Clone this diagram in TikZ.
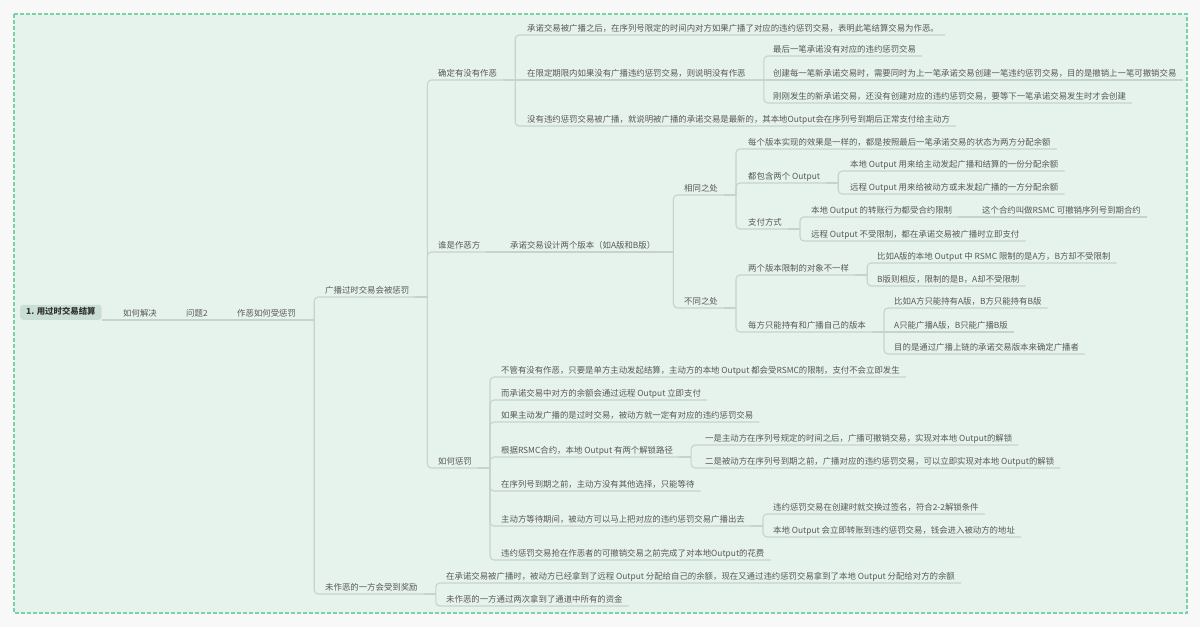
\documentclass[tikz,border=0pt]{standalone}
\usepackage{fontspec}
\setmainfont{Noto Sans CJK SC}
\usepackage{tikz}

\definecolor{pagebg}{RGB}{248,248,248}
\definecolor{mapbg}{RGB}{230,243,237}
\definecolor{framegreen}{RGB}{122,210,166}
\definecolor{linegray}{RGB}{198,211,204}
\definecolor{textgray}{RGB}{88,88,88}
\definecolor{rootfill}{RGB}{201,223,213}

\begin{document}
\begin{tikzpicture}[x=1pt, y=-1pt,
        topic/.style={anchor=south west, inner xsep=6pt, inner ysep=2pt, text height=6.5pt, text depth=1.5pt, text=textgray, font=\fontsize{8.4}{10}\selectfont},
        root/.style={topic, fill=rootfill, rounded corners=3pt, inner ysep=3.5pt, text=black!80, font=\fontsize{8.4}{10}\selectfont\bfseries},
        link/.style={draw=linegray, line width=1.1pt}]
        \useasboundingbox (0, 0) rectangle (1200, 627);
        \fill [pagebg] (0, 0) rectangle (1200, 627);
        \draw [fill=mapbg, draw=framegreen, line width=1.5pt, dash pattern=on 4pt off 2pt] (14, 14) rectangle (1187, 613);

        \node (r) at (20, 320) [root] {1. 用过时交易结算};
        \node (a) at (117, 320) [topic] {如何解决};
        \node (b) at (180, 320) [topic] {问题2};
        \node (c) at (231, 320) [topic] {作恶如何受惩罚};

        \node (c1) at (319, 297) [topic] {广播过时交易会被惩罚};
        \node (c2) at (319, 594) [topic] {未作恶的一方会受到奖励};

        \node (c11) at (432, 80) [topic] {确定有没有作恶};
        \node (c12) at (432, 252) [topic] {谁是作恶方};
        \node (c13) at (432, 468) [topic] {如何惩罚};

        \node (c111) at (521, 35) [topic] {承诺交易被广播之后，在序列号限定的时间内对方如果广播了对应的违约惩罚交易，表明此笔结算交易为作恶。};
        \node (c112) at (521, 80) [topic] {在限定期限内如果没有广播违约惩罚交易，则说明没有作恶};
        \node (c113) at (521, 126) [topic] {没有违约惩罚交易被广播，就说明被广播的承诺交易是最新的，其本地Output会在序列号到期后正常支付给主动方};

        \node (c1121) at (767, 56) [topic] {最后一笔承诺没有对应的违约惩罚交易};
        \node (c1122) at (767, 80) [topic] {创建每一笔新承诺交易时，需要同时为上一笔承诺交易创建一笔违约惩罚交易，目的是撤销上一笔可撤销交易};
        \node (c1123) at (767, 103) [topic] {刚刚发生的新承诺交易，还没有创建对应的违约惩罚交易，要等下一笔承诺交易发生时才会创建};

        \node (c121) at (504, 252) [topic] {承诺交易设计两个版本（如A版和B版）};
        \node (c1211) at (678, 195) [topic] {相同之处};
        \node (c1212) at (678, 308) [topic] {不同之处};

        \node (c12111) at (742, 149) [topic] {每个版本实现的效果是一样的，都是按照最后一笔承诺交易的状态为两方分配余额};
        \node (c12112) at (742, 183) [topic] {都包含两个 Output};
        \node (c12113) at (742, 229) [topic] {支付方式};
        \node (c121121) at (844, 171) [topic] {本地 Output 用来给主动发起广播和结算的一份分配余额};
        \node (c121122) at (844, 194) [topic] {远程 Output 用来给被动方或未发起广播的一方分配余额};
        \node (c121131) at (805, 217) [topic] {本地 Output 的转账行为都受合约限制};
        \node (c1211311) at (976, 217) [topic] {这个合约叫做RSMC 可撤销序列号到期合约};
        \node (c121132) at (805, 241) [topic] {远程 Output 不受限制，都在承诺交易被广播时立即支付};

        \node (c12121) at (742, 275) [topic] {两个版本限制的对象不一样};
        \node (c12122) at (742, 332) [topic] {每方只能持有和广播自己的版本};
        \node (c121211) at (871, 263) [topic] {比如A版的本地 Output 中 RSMC 限制的是A方，B方却不受限制};
        \node (c121212) at (871, 286) [topic] {B版则相反，限制的是B，A却不受限制};
        \node (c121221) at (888, 308) [topic] {比如A方只能持有A版，B方只能持有B版};
        \node (c121222) at (888, 332) [topic] {A只能广播A版，B只能广播B版};
        \node (c121223) at (888, 354) [topic] {目的是通过广播上链的承诺交易版本来确定广播者};

        \node (c131) at (495, 377) [topic] {不管有没有作恶，只要是单方主动发起结算，主动方的本地 Output 都会受RSMC的限制，支付不会立即发生};
        \node (c132) at (495, 400) [topic] {而承诺交易中对方的余额会通过远程 Output 立即支付};
        \node (c133) at (495, 422) [topic] {如果主动发广播的是过时交易，被动方就一定有对应的违约惩罚交易};
        \node (c134) at (495, 457) [topic] {根据RSMC合约，本地 Output 有两个解锁路径};
        \node (c135) at (495, 491) [topic] {在序列号到期之前，主动方没有其他选择，只能等待};
        \node (c136) at (495, 526) [topic] {主动方等待期间，被动方可以马上把对应的违约惩罚交易广播出去};
        \node (c137) at (495, 560) [topic] {违约惩罚交易抢在作恶者的可撤销交易之前完成了对本地Output的花费};
        \node (c1341) at (699, 445) [topic] {一是主动方在序列号规定的时间之后，广播可撤销交易，实现对本地 Output的解锁};
        \node (c1342) at (699, 468) [topic] {二是被动方在序列号到期之前，广播对应的违约惩罚交易，可以立即实现对本地 Output的解锁};
        \node (c1361) at (767, 514) [topic] {违约惩罚交易在创建时就交换过签名，符合2-2解锁条件};
        \node (c1362) at (767, 537) [topic] {本地 Output 会立即转账到违约惩罚交易，钱会进入被动方的地址};

        \node (c21) at (440, 583) [topic] {在承诺交易被广播时，被动方已经拿到了远程 Output 分配给自己的余额，现在又通过违约惩罚交易拿到了本地 Output 分配给对方的余额};
        \node (c22) at (440, 606) [topic] {未作恶的一方通过两次拿到了通道中所有的资金};

        \foreach \a/\b in {r/a, a/b, b/c, c11/c112, c112/c1122, c12/c121, c121131/c1211311, c12122/c121222}
            {\draw [link] (\a.south east) -- (\b.south east);}

        \foreach \a/\b in {c/c1, c/c2, c1/c11, c1/c12, c1/c13, c11/c111, c11/c113, c112/c1121, c112/c1123,
                c121/c1211, c121/c1212, c1211/c12111, c1211/c12112, c1211/c12113,
                c12112/c121121, c12112/c121122, c12113/c121131, c12113/c121132,
                c1212/c12121, c1212/c12122, c12121/c121211, c12121/c121212, c12122/c121221, c12122/c121223,
                c13/c131, c13/c132, c13/c133, c13/c134, c13/c135, c13/c136, c13/c137,
                c134/c1341, c134/c1342, c136/c1361, c136/c1362, c2/c21, c2/c22}
            {\draw [link] (\a.south east) -- ++(12, 0) coordinate (k);
             \draw [link, rounded corners=4pt] (k) |- (\b.south east);}
    \end{tikzpicture}
\end{document}
